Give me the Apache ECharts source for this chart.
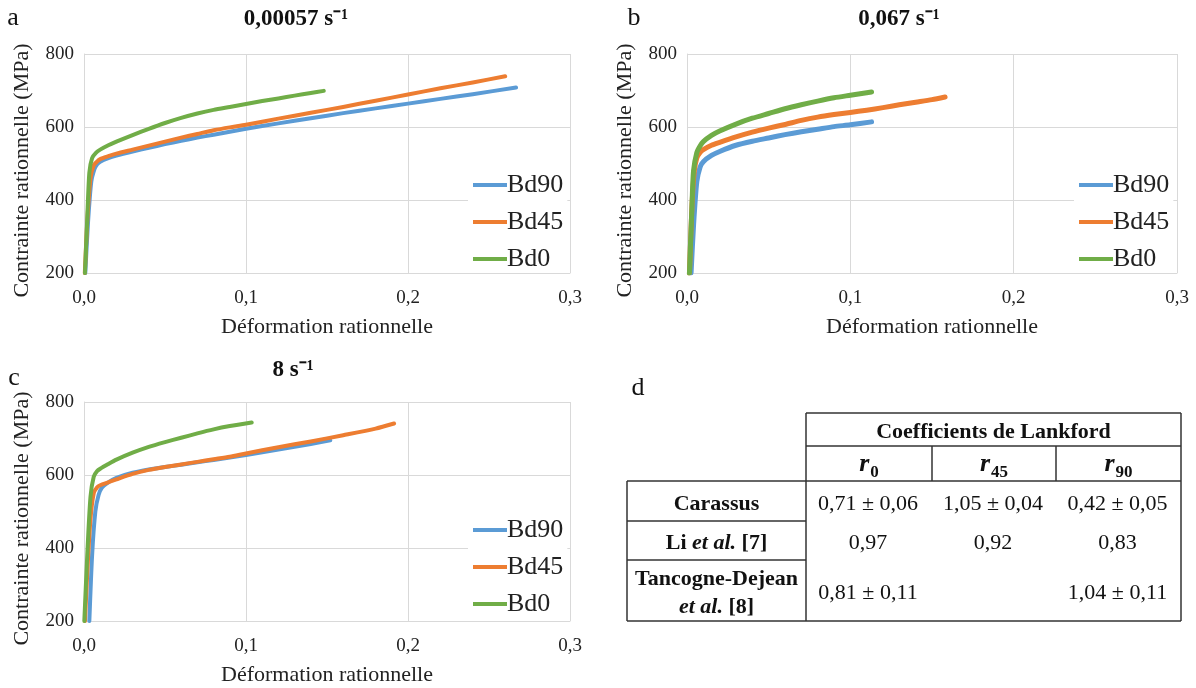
<!DOCTYPE html>
<html>
<head>
<meta charset="utf-8">
<script src="https://cdn.jsdelivr.net/npm/echarts@6/dist/echarts.min.js"></script>
<style>
html,body{margin:0;padding:0;background:#fff;}
#chart{width:1196px;height:688px;}
</style>
</head>
<body>
<div id="chart"></div>
<script>
// ---------- DATA ----------
const seriesNames = ['Bd90', 'Bd45', 'Bd0'];
const panelTitles = ['0,00057 s⁻¹', '0,067 s⁻¹', '8 s⁻¹'];
const panelLetters = ['a', 'b', 'c', 'd'];
const xTicks = [0, 0.1, 0.2, 0.3];
const yTicks = [200, 400, 600, 800];
const xAxisName = 'Déformation rationnelle';
const yAxisName = 'Contrainte rationnelle (MPa)';

// Panel a : 0,00057 s-1
const strainA_Bd90 = [0.0008,0.0025,0.0045,0.0065,0.008,0.01,0.015,0.02,0.03,0.04,0.05,0.06,0.07,0.08,0.09,0.10,0.12,0.14,0.16,0.18,0.20,0.22,0.24,0.2667];
const stressA_Bd90 = [200,340,450,485,497,505,515,522,533,543,553,562,571,579,587,595,610,624,638,651,664,677,690,708];
const strainA_Bd45 = [0.0005,0.002,0.004,0.006,0.008,0.01,0.015,0.02,0.03,0.04,0.05,0.06,0.07,0.08,0.09,0.10,0.12,0.14,0.16,0.18,0.20,0.22,0.24,0.26];
const stressA_Bd45 = [200,340,460,495,505,512,520,527,538,549,560,571,581,591,599,606,623,639,655,672,689,706,722,739];
const strainA_Bd0 = [0.0006,0.002,0.0033,0.005,0.0075,0.01,0.015,0.02,0.03,0.04,0.05,0.06,0.07,0.08,0.09,0.10,0.11,0.12,0.13,0.14,0.148];
const stressA_Bd0 = [200,350,475,515,530,538,550,560,578,595,611,625,637,647,655,663,671,678,686,693,699];

// Panel b : 0,067 s-1
const strainB_Bd90 = [0.0025,0.004,0.006,0.008,0.01,0.015,0.02,0.03,0.04,0.05,0.06,0.07,0.08,0.09,0.10,0.113];
const stressB_Bd90 = [200,330,450,490,505,522,533,550,561,570,579,587,594,601,606,614];
const strainB_Bd45 = [0.0015,0.003,0.0045,0.006,0.008,0.01,0.015,0.02,0.03,0.04,0.05,0.06,0.07,0.08,0.09,0.10,0.11,0.12,0.13,0.14,0.15,0.158];
const stressB_Bd45 = [200,380,480,515,530,538,550,558,573,586,597,607,618,627,634,640,646,653,661,668,675,682];
const strainB_Bd0 = [0.0015,0.003,0.004,0.006,0.008,0.01,0.015,0.02,0.03,0.04,0.05,0.06,0.07,0.08,0.09,0.10,0.113];
const stressB_Bd0 = [200,380,480,530,548,560,577,589,608,624,637,650,661,671,680,687,696];

// Panel c : 8 s-1
const strainC_Bd90 = [0.0033,0.005,0.007,0.009,0.011,0.015,0.02,0.03,0.04,0.05,0.06,0.07,0.08,0.09,0.10,0.12,0.14,0.152];
const stressC_Bd90 = [200,380,500,545,565,580,592,606,615,622,628,635,641,648,655,670,685,695];
const strainC_Bd45 = [0.0006,0.002,0.004,0.006,0.008,0.01,0.015,0.02,0.03,0.04,0.05,0.06,0.07,0.08,0.09,0.10,0.12,0.14,0.16,0.18,0.1914];
const stressC_Bd45 = [200,330,480,550,566,572,580,588,603,614,622,629,636,643,650,659,676,692,709,727,741];
const strainC_Bd0 = [0.0002,0.002,0.004,0.006,0.008,0.01,0.015,0.02,0.03,0.04,0.05,0.06,0.07,0.08,0.09,0.1035];
const stressC_Bd0 = [200,380,540,595,610,617,630,642,661,677,690,702,714,725,734,744];

// Panel d : Lankford coefficients table
const tableGroupHeader = 'Coefficients de Lankford';
const tableColumns = [['r', '0'], ['r', '45'], ['r', '90']];
const tableRowLabels = [['{b|Carassus}'], ['{b|Li }{bi|et al.}{b| [7]}'], ['{b|Tancogne-Dejean}', '{bi|et al.}{b| [8]}']];
const tableValues = [
  ['0,71 ± 0,06', '1,05 ± 0,04', '0,42 ± 0,05'],
  ['0,97', '0,92', '0,83'],
  ['0,81 ± 0,11', '', '1,04 ± 0,11']
];

// ---------- CHART ----------
const colors = ['#5B9BD5', '#ED7D31', '#70AD47'];
const FONT = '"Liberation Serif", "Times New Roman", serif';
const panels = [
  {strain: [strainA_Bd90, strainA_Bd45, strainA_Bd0], stress: [stressA_Bd90, stressA_Bd45, stressA_Bd0], lw: 4},
  {strain: [strainB_Bd90, strainB_Bd45, strainB_Bd0], stress: [stressB_Bd90, stressB_Bd45, stressB_Bd0], lw: 5},
  {strain: [strainC_Bd90, strainC_Bd45, strainC_Bd0], stress: [stressC_Bd90, stressC_Bd45, stressC_Bd0], lw: 4}
];
const grids = [
  {left: 84, top: 54, width: 486, height: 219},
  {left: 687, top: 54, width: 490, height: 219},
  {left: 84, top: 402, width: 486, height: 219}
];
const legendPos = [
  {left: 468, top: 166},
  {left: 1074, top: 166},
  {left: 468, top: 511}
];
const titlePos = [[296, 19], [899, 19], [293, 370]];
const letterPos = [[13, 18], [634, 18], [14, 378], [638, 388]];

const fmt = v => v.toFixed(1).replace('.', ',');

const option = {
  backgroundColor: '#fff',
  animation: false,
  textStyle: {fontFamily: FONT},
  grid: grids.map(g => Object.assign({containLabel: false}, g)),
  xAxis: grids.map((g, i) => ({
    type: 'value', gridIndex: i,
    min: xTicks[0], max: xTicks[xTicks.length - 1], interval: 0.1,
    name: xAxisName, nameLocation: 'middle', nameGap: 43,
    nameTextStyle: {fontFamily: FONT, fontSize: 22, color: '#222'},
    axisLine: {show: true, lineStyle: {color: '#D9D9D9', width: 1}},
    axisTick: {show: false},
    axisLabel: {fontFamily: FONT, fontSize: 19, color: '#222', margin: 16, formatter: fmt},
    splitLine: {show: true, lineStyle: {color: '#D9D9D9', width: 1}}
  })),
  yAxis: grids.map((g, i) => ({
    type: 'value', gridIndex: i,
    min: yTicks[0], max: yTicks[yTicks.length - 1], interval: 200,
    name: yAxisName, nameLocation: 'middle', nameGap: 51,
    nameTextStyle: {fontFamily: FONT, fontSize: 22, color: '#222', padding: [0, 14, 0, 0]},
    axisLine: {show: true, lineStyle: {color: '#D9D9D9', width: 1}},
    axisTick: {show: false},
    axisLabel: {fontFamily: FONT, fontSize: 19, color: '#222', margin: 10},
    splitLine: {show: true, lineStyle: {color: '#D9D9D9', width: 1}}
  })),
  legend: legendPos.map(p => ({
    data: seriesNames, orient: 'vertical', left: p.left, top: p.top,
    backgroundColor: '#fff', padding: [6, 4, 1, 5],
    icon: 'rect', itemWidth: 34, itemHeight: 4, itemGap: 11,
    selectedMode: false,
    textStyle: {fontFamily: FONT, fontSize: 26, color: '#222', lineHeight: 25, padding: [0, 0, 0, -5]}
  })),
  series: [],
  graphic: []
};

panels.forEach((p, pi) => {
  seriesNames.forEach((name, si) => {
    option.series.push({
      type: 'line', name: name, xAxisIndex: pi, yAxisIndex: pi,
      data: p.strain[si].map((x, k) => [x, p.stress[si][k]]),
      showSymbol: false, smooth: 0.25,
      lineStyle: {color: colors[si], width: p.lw, cap: 'round', join: 'round'},
      itemStyle: {color: colors[si]},
      z: 2 + si
    });
  });
});

// Titles and panel letters
panelTitles.forEach((t, i) => {
  option.graphic.push({type: 'text', x: titlePos[i][0], y: titlePos[i][1],
    style: {text: t, font: 'bold 23px ' + FONT, fill: '#111', align: 'center', verticalAlign: 'middle'}});
});
panelLetters.forEach((t, i) => {
  option.graphic.push({type: 'text', x: letterPos[i][0], y: letterPos[i][1],
    style: {text: t, font: '26px ' + FONT, fill: '#111', align: 'center', verticalAlign: 'middle'}});
});

// Table (panel d)
const colX = [627, 806, 932, 1056, 1181];
const rowY = [413, 446, 481, 521, 560, 621];
const lineColor = '#333';
const lw = 1.5;
function hl(x1, x2, y) { option.graphic.push({type: 'line', shape: {x1: x1, y1: y, x2: x2, y2: y}, style: {stroke: lineColor, lineWidth: lw}}); }
function vl(x, y1, y2) { option.graphic.push({type: 'line', shape: {x1: x, y1: y1, x2: x, y2: y2}, style: {stroke: lineColor, lineWidth: lw}}); }
hl(colX[1], colX[4], rowY[0]);
hl(colX[1], colX[4], rowY[1]);
hl(colX[0], colX[4], rowY[2]);
hl(colX[0], colX[1], rowY[3]);
hl(colX[0], colX[1], rowY[4]);
hl(colX[0], colX[4], rowY[5]);
vl(colX[0], rowY[2], rowY[5]);
vl(colX[1], rowY[0], rowY[5]);
vl(colX[2], rowY[1], rowY[2]);
vl(colX[3], rowY[1], rowY[2]);
vl(colX[4], rowY[0], rowY[5]);

const richT = {
  b: {fontFamily: FONT, fontWeight: 'bold', fontSize: 22, fill: '#111', lineHeight: 28},
  bi: {fontFamily: FONT, fontWeight: 'bold', fontStyle: 'italic', fontSize: 22, fill: '#111', lineHeight: 28},
  r: {fontFamily: FONT, fontWeight: 'bold', fontStyle: 'italic', fontSize: 26, fill: '#111', lineHeight: 30, verticalAlign: 'middle'},
  s: {fontFamily: FONT, fontWeight: 'bold', fontSize: 17, fill: '#111', lineHeight: 34, verticalAlign: 'bottom', padding: [0, 0, 0, 1]}
};
option.graphic.push({type: 'text', x: (colX[1] + colX[4]) / 2, y: (rowY[0] + rowY[1]) / 2 + 3,
  style: {text: tableGroupHeader, font: 'bold 22px ' + FONT, fill: '#111', align: 'center', verticalAlign: 'middle'}});
tableColumns.forEach((c, j) => {
  option.graphic.push({type: 'text', x: (colX[j + 1] + colX[j + 2]) / 2, y: (rowY[1] + rowY[2]) / 2 + 1,
    style: {text: '{r|' + c[0] + '}{s|' + c[1] + '}', rich: richT, align: 'center', verticalAlign: 'middle'}});
});
tableRowLabels.forEach((lines, i) => {
  option.graphic.push({type: 'text', x: (colX[0] + colX[1]) / 2, y: (rowY[2 + i] + rowY[3 + i]) / 2 + 3,
    style: {text: lines.join('\n'), rich: richT, align: 'center', verticalAlign: 'middle'}});
  tableValues[i].forEach((v, j) => {
    if (!v) return;
    option.graphic.push({type: 'text', x: (colX[j + 1] + colX[j + 2]) / 2 - 1, y: (rowY[2 + i] + rowY[3 + i]) / 2 + 3,
      style: {text: v, font: '22px ' + FONT, fill: '#111', align: 'center', verticalAlign: 'middle'}});
  });
});

const chart = echarts.init(document.getElementById('chart'), null, {renderer: 'canvas'});
chart.setOption(option);
</script>
</body>
</html>
